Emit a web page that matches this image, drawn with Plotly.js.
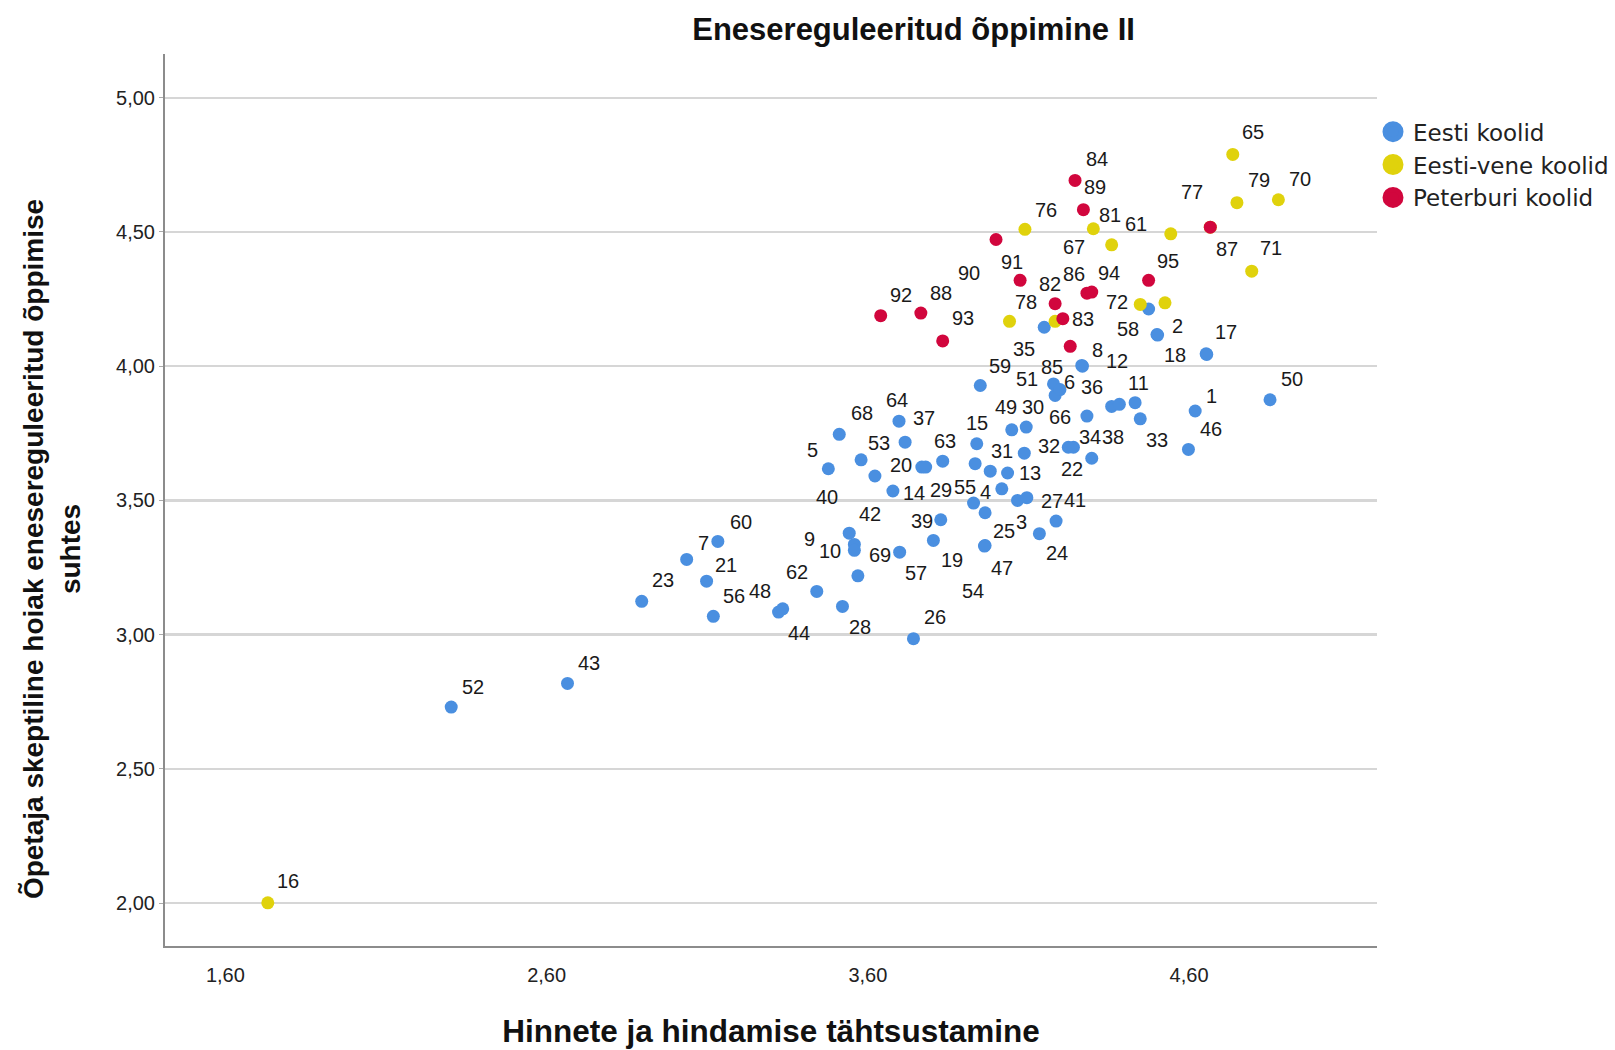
<!DOCTYPE html>
<html>
<head>
<meta charset="utf-8">
<script src="https://cdn.plot.ly/plotly-3.0.1.min.js"></script>
<style>
html,body{margin:0;padding:0;background:#ffffff;}
#chart{width:1615px;height:1050px;}
</style>
</head>
<body>
<div id="chart"></div>
<script>
// ---------------- DATA ----------------
const groupNames = ['Eesti koolid', 'Eesti-vene koolid', 'Peterburi koolid'];

// Eesti koolid (blue)
const eestiLabels = ['52','43','23','7','60','21','56','48','44','62',
  '28','42','9','10','69','57','19','39','26','5',
  '40','68','53','64','37','14','20','','63','15',
  '55','','13','31','4','29','25','3','27','41',
  '24','47','54','59','35','51','','6','8','12',
  '66','36','38','11','33','49','30','32','34','22',
  '1','46','50','17','18','58','2',''];
const eestiX = [2.303,2.665,2.896,3.036,3.133,3.098,3.119,3.322,3.335,3.441,
  3.521,3.542,3.558,3.558,3.569,3.699,3.804,3.827,3.742,3.477,
  3.622,3.511,3.579,3.697,3.716,3.678,3.768,3.780,3.833,3.939,
  3.934,3.981,4.035,4.087,4.017,3.929,3.965,4.066,4.095,4.186,
  4.134,3.965,3.963,3.950,4.149,4.183,4.178,4.198,4.266,4.268,
  4.282,4.359,4.383,4.432,4.448,4.048,4.093,4.224,4.240,4.297,
  4.619,4.598,4.852,4.655,4.653,4.500,4.502,4.474];
const eestiY = [2.730,2.818,3.124,3.280,3.347,3.199,3.068,3.084,3.096,3.161,
  3.105,3.378,3.336,3.314,3.219,3.307,3.351,3.428,2.985,3.618,
  3.591,3.746,3.651,3.795,3.717,3.535,3.624,3.624,3.646,3.711,
  3.637,3.609,3.602,3.676,3.543,3.490,3.454,3.500,3.510,3.423,
  3.376,3.332,3.330,3.928,4.145,3.891,3.934,3.913,4.003,4.000,
  3.814,3.850,3.858,3.864,3.804,3.763,3.773,3.698,3.698,3.657,
  3.833,3.690,3.875,4.044,4.046,4.118,4.116,4.213];

// Eesti-vene koolid (yellow)
const eestiveneLabels = ['16','65','79','70','71','61','76','81','67','72','','78','','77'];
const eestiveneX = [1.732,4.736,4.749,4.878,4.795,4.543,4.089,4.302,4.359,4.448,4.525,4.041,4.183,4.666];
const eestiveneY = [2.001,4.789,4.609,4.620,4.354,4.493,4.510,4.512,4.452,4.230,4.236,4.167,4.167,4.518];

// Peterburi koolid (red)
const peterburiLabels = ['84','89','90','91','82','86','94','83','85','92','88','93','95','87'];
const peterburiX = [4.245,4.271,3.999,4.074,4.183,4.282,4.297,4.207,4.230,3.640,3.765,3.833,4.474,4.666];
const peterburiY = [4.692,4.583,4.472,4.320,4.233,4.272,4.276,4.177,4.074,4.188,4.198,4.094,4.320,4.518];

// Axis ticks
const xTickValues = [1.6, 2.6, 3.6, 4.6];
const xTickLabels = ['1,60', '2,60', '3,60', '4,60'];
const yTickValues = [2.0, 2.5, 3.0, 3.5, 4.0, 4.5, 5.0];
const yTickLabels = ['2,00', '2,50', '3,00', '3,50', '4,00', '4,50', '5,00'];

// ---------------- LABEL PLACEMENT (pixel offsets of point labels) ----------------
const eestiShiftX = [21,21,21,16,22,19,20,-18,16,-19,
  17,20,-44,-24,21,16,18,-18,21,-15,
  -47,22,17,-2,18,20,-20,0,2,0,
  -10,0,22,-22,-16,-32,18,4,24,18,
  17,16,-11,19,-20,-27,0,9,15,34,
  -26,-19,-6,3,16,-6,7,-19,16,-19,
  16,22,21,19,-30,-28,19,0];
const eestiShiftY = [-20,-20,-21,-16,-19,-16,-20,-20,23,-19,
  20,-19,-5,1,-20,20,19,1,-21,-18,
  20,-21,-16,-21,-23,2,-2,0,-20,-20,
  23,0,0,-2,3,-13,18,21,3,-20,
  19,22,44,-19,21,-16,0,-7,-15,-5,
  1,-19,32,-19,21,-22,-20,-1,-10,10,
  -15,-20,-20,-22,1,-5,-9,0];
const eestiveneShiftX = [20,20,21,21,19,-34,20,16,-37,-23,0,16,0,-18];
const eestiveneShiftY = [-21,-22,-22,-20,-22,-10,-19,-13,2,-2,0,-19,0,-34];
const peterburiShiftX = [21,11,-26,-8,-5,-13,17,20,-18,20,20,20,19,16];
const peterburiShiftY = [-21,-22,33,-18,-19,-19,-19,0,20,-20,-19,-22,-19,21];

// ---------------- STYLES ----------------
const colors = ['#4a8fe0', '#e0d20c', '#d1063d'];
const LABEL_FONT = {family: 'Liberation Sans, Arial, sans-serif', size: 20, color: '#1a1a1a'};
const SCALE = 1.03;

const groups = [
  {x: eestiX, y: eestiY, labels: eestiLabels, sx: eestiShiftX, sy: eestiShiftY},
  {x: eestiveneX, y: eestiveneY, labels: eestiveneLabels, sx: eestiveneShiftX, sy: eestiveneShiftY},
  {x: peterburiX, y: peterburiY, labels: peterburiLabels, sx: peterburiShiftX, sy: peterburiShiftY}
];

const traces = [];
const annotations = [];
groups.forEach((g, gi) => {
  traces.push({
    type: 'scatter', mode: 'markers', name: groupNames[gi],
    x: g.x, y: g.y, text: g.labels,
    marker: {size: 13, color: colors[gi]},
    showlegend: false, hoverinfo: 'x+y+text'
  });
  g.labels.forEach((lab, i) => {
    if (!lab) return;
    annotations.push({
      x: g.x[i], y: g.y[i], xref: 'x', yref: 'y', text: lab, showarrow: false,
      xshift: g.sx[i] * SCALE, yshift: -g.sy[i] * SCALE,
      xanchor: 'center', yanchor: 'middle', font: LABEL_FONT
    });
  });
});
// legend entries
groupNames.forEach((n, gi) => {
  traces.push({
    type: 'scatter', mode: 'markers', name: n, x: [null], y: [null],
    marker: {size: 16, color: colors[gi], line: {width: 5, color: colors[gi]}},
    showlegend: true, hoverinfo: 'skip'
  });
});

// y axis title (two lines, rotated)
annotations.push({
  xref: 'paper', yref: 'paper', x: -0.0935, y: 0.4446,
  text: 'Õpetaja skeptiline hoiak enesereguleeritud õppimise<br>suhtes',
  textangle: -90, showarrow: false, xanchor: 'center', yanchor: 'middle', align: 'center',
  font: {family: 'Liberation Sans, Arial, sans-serif', size: 28, weight: 'bold', color: '#111'}
});

const layout = {
  width: 1615, height: 1050,
  margin: {l: 165, r: 238, t: 54, b: 104, pad: 0, autoexpand: false},
  paper_bgcolor: '#ffffff', plot_bgcolor: '#ffffff',
  font: {family: 'Liberation Sans, Arial, sans-serif', color: '#222'},
  title: {
    text: 'Enesereguleeritud õppimine II',
    font: {family: 'Liberation Sans, Arial, sans-serif', size: 31, weight: 'bold', color: '#111'},
    xref: 'container', x: 0.5657, xanchor: 'center',
    yref: 'container', y: 0.9724, yanchor: 'middle'
  },
  xaxis: {
    range: [1.412, 5.185], tickvals: xTickValues, ticktext: xTickLabels,
    showgrid: false, zeroline: false, showline: true, linecolor: '#8c8c8c', linewidth: 2,
    ticks: 'outside', ticklen: 10, tickcolor: 'rgba(0,0,0,0)',
    tickfont: {size: 20, color: '#222'},
    title: {text: 'Hinnete ja hindamise tähtsustamine', standoff: 35,
      font: {family: 'Liberation Sans, Arial, sans-serif', size: 31.5, weight: 'bold', color: '#111'}},
    automargin: false, fixedrange: true
  },
  yaxis: {
    range: [1.840, 5.163], tickvals: yTickValues, ticktext: yTickLabels,
    showgrid: true, gridcolor: '#d6d6d6', gridwidth: 2.5,
    zeroline: false, showline: true, linecolor: '#8c8c8c', linewidth: 2,
    ticks: 'outside', ticklen: 4, tickcolor: '#aaaaaa',
    tickfont: {size: 20, color: '#222'},
    automargin: false, fixedrange: true
  },
  legend: {
    x: 0.9967, xanchor: 'left', y: 0.937, yanchor: 'top',
    font: {family: 'DejaVu Sans, Verdana, sans-serif', size: 23, color: '#222'},
    bgcolor: 'rgba(0,0,0,0)', borderwidth: 0
  },
  showlegend: true,
  annotations: annotations
};

Plotly.newPlot('chart', traces, layout, {displayModeBar: false, staticPlot: true});
</script>
</body>
</html>
